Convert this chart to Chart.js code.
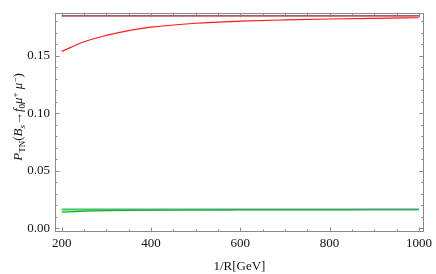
<!DOCTYPE html>
<html><head><meta charset="utf-8">
<script src="https://cdn.jsdelivr.net/npm/chart.js@4.4.1/dist/chart.umd.min.js"></script>
<style>html,body{margin:0;padding:0;background:#fff}#wrap{width:436px;height:274px}</style>
</head><body><div id="wrap"><canvas id="c" width="436" height="274"></canvas></div>
<script>
// Data
const xCurve = [200, 250, 300, 350, 400, 500, 600, 700, 800, 900, 1000];
const redCurve = [0.1537, 0.1621, 0.1676, 0.1718, 0.1748, 0.1782, 0.1800, 0.1811, 0.1819, 0.1825, 0.1830];
const darkGreenCurve = [0.0139, 0.0147, 0.0152, 0.0155, 0.0157, 0.0159, 0.0160, 0.0161, 0.0161, 0.0162, 0.0162];
const xFlat = [200, 1000];
const blackFlat = [0.1847, 0.1847];
const redFlat = [0.1846, 0.1846];
const lavenderFlat = [0.0168, 0.0168];
const greenFlat = [0.0160, 0.0160];
const xTickLabels = ["200", "400", "600", "800", "1000"];
const xTickValues = [200, 400, 600, 800, 1000];
const yTickLabels = ["0.00", "0.05", "0.10", "0.15"];
const yTickValues = [0, 0.05, 0.10, 0.15];
const xTitle = "1/R[GeV]";

const pts = (xa, ya) => xa.map((x, i) => ({x: x, y: ya[i]}));
const serif = "'Liberation Serif', 'DejaVu Serif', serif";

const frameTicks = {
  id: 'frameTicks',
  afterDatasetsDraw(chart) {
    const ctx = chart.ctx, a = chart.chartArea;
    const xs = chart.scales.x, ys = chart.scales.y;
    ctx.save();
    ctx.strokeStyle = '#8a8a8a';
    ctx.lineWidth = 1;
    ctx.strokeRect(Math.round(a.left) + 0.5, Math.round(a.top) + 0.5, Math.round(a.right - a.left) - 1, Math.round(a.bottom - a.top) - 1);
    ctx.beginPath();
    for (let v = 200; v <= 1000; v += 50) {
      const px = Math.round(xs.getPixelForValue(v)) + 0.5;
      const L = (v % 200 === 0) ? 4.5 : 2.5;
      ctx.moveTo(px, a.bottom); ctx.lineTo(px, a.bottom - L);
      ctx.moveTo(px, a.top); ctx.lineTo(px, a.top + L);
    }
    for (let k = 0; k <= 18; k++) {
      const v = k / 100;
      const py = Math.round(ys.getPixelForValue(v)) + 0.5;
      const L = (k % 5 === 0) ? 4.5 : 2.5;
      ctx.moveTo(a.left, py); ctx.lineTo(a.left + L, py);
      ctx.moveTo(a.right, py); ctx.lineTo(a.right - L, py);
    }
    ctx.stroke();
    ctx.restore();
  },
  afterDraw(chart) {
    const ctx = chart.ctx;
    const segs = [
      ['italic', 13, 'P', 0], ['normal', 9, 'TN', 3], ['normal', 13, '(', 0],
      ['italic', 13, 'B', 0], ['italic', 9, 's', 3], ['normal', 13, '\u2192', 0],
      ['italic', 13, 'f', 0], ['normal', 9, '0', 3], ['italic', 13, '\u03bc', 0],
      ['normal', 9, '+', -4], ['normal', 13, ' ', 0], ['italic', 13, '\u03bc', 0],
      ['normal', 9, '\u2212', -4], ['normal', 13, ')', 0]
    ];
    ctx.save();
    ctx.fillStyle = '#111';
    ctx.textBaseline = 'alphabetic';
    let total = 0;
    const widths = segs.map(s => { ctx.font = s[0] + ' ' + s[1] + 'px ' + serif; const w = ctx.measureText(s[2]).width; total += w; return w; });
    ctx.translate(22, 117);
    ctx.rotate(-Math.PI / 2);
    let x = -total / 2;
    segs.forEach((s, i) => {
      ctx.font = s[0] + ' ' + s[1] + 'px ' + serif;
      ctx.fillText(s[2], x, s[3]);
      x += widths[i];
    });
    ctx.restore();
  }
};

new Chart(document.getElementById('c'), {
  type: 'line',
  data: {
    datasets: [
      {data: pts(xFlat, blackFlat), borderColor: '#666666', borderWidth: 1},
      {data: pts(xFlat, redFlat), borderColor: '#ff1a1a', borderWidth: 1.3},
      {data: pts(xCurve, redCurve), borderColor: '#ff1a1a', cubicInterpolationMode: 'monotone'},
      {data: pts(xFlat, lavenderFlat), borderColor: '#a8a8ff', borderWidth: 1.1},
      {data: pts(xCurve, darkGreenCurve), borderColor: '#10b010', cubicInterpolationMode: 'monotone', borderWidth: 1.3},
      {data: pts(xFlat, greenFlat), borderColor: '#00f000', borderWidth: 1.6}
    ]
  },
  options: {
    responsive: false,
    animation: false,
    layout: {padding: {top: 2, right: 8, left: 0, bottom: 0}},
    elements: {point: {radius: 0}, line: {borderWidth: 1.2, fill: false}},
    plugins: {legend: {display: false}, tooltip: {enabled: false}},
    scales: {
      x: {
        type: 'linear', min: 185, max: 1011,
        afterBuildTicks: s => { s.ticks = xTickValues.map(v => ({value: v})); },
        afterFit: s => { s.height = 42; },
        grid: {display: false, drawTicks: false},
        border: {display: false},
        ticks: {padding: 4, color: '#111', font: {family: serif, size: 13},
          maxRotation: 0, autoSkip: false,
          callback: (v) => { const i = xTickValues.indexOf(v); return i >= 0 ? xTickLabels[i] : ''; }},
        title: {display: true, text: xTitle, color: '#111', font: {family: serif, size: 13}, padding: {top: 4, bottom: 0}}
      },
      y: {
        type: 'linear', min: -0.0034, max: 0.1873,
        afterBuildTicks: s => { s.ticks = yTickValues.map(v => ({value: v})); },
        afterFit: s => { s.width = 55; },
        grid: {display: false, drawTicks: false},
        border: {display: false},
        ticks: {padding: 5, color: '#111', font: {family: serif, size: 13},
          callback: (v) => { const i = yTickValues.findIndex(t => Math.abs(t - v) < 1e-9); return i >= 0 ? yTickLabels[i] : ''; }}
      }
    }
  },
  plugins: [frameTicks]
});
</script></body></html>
